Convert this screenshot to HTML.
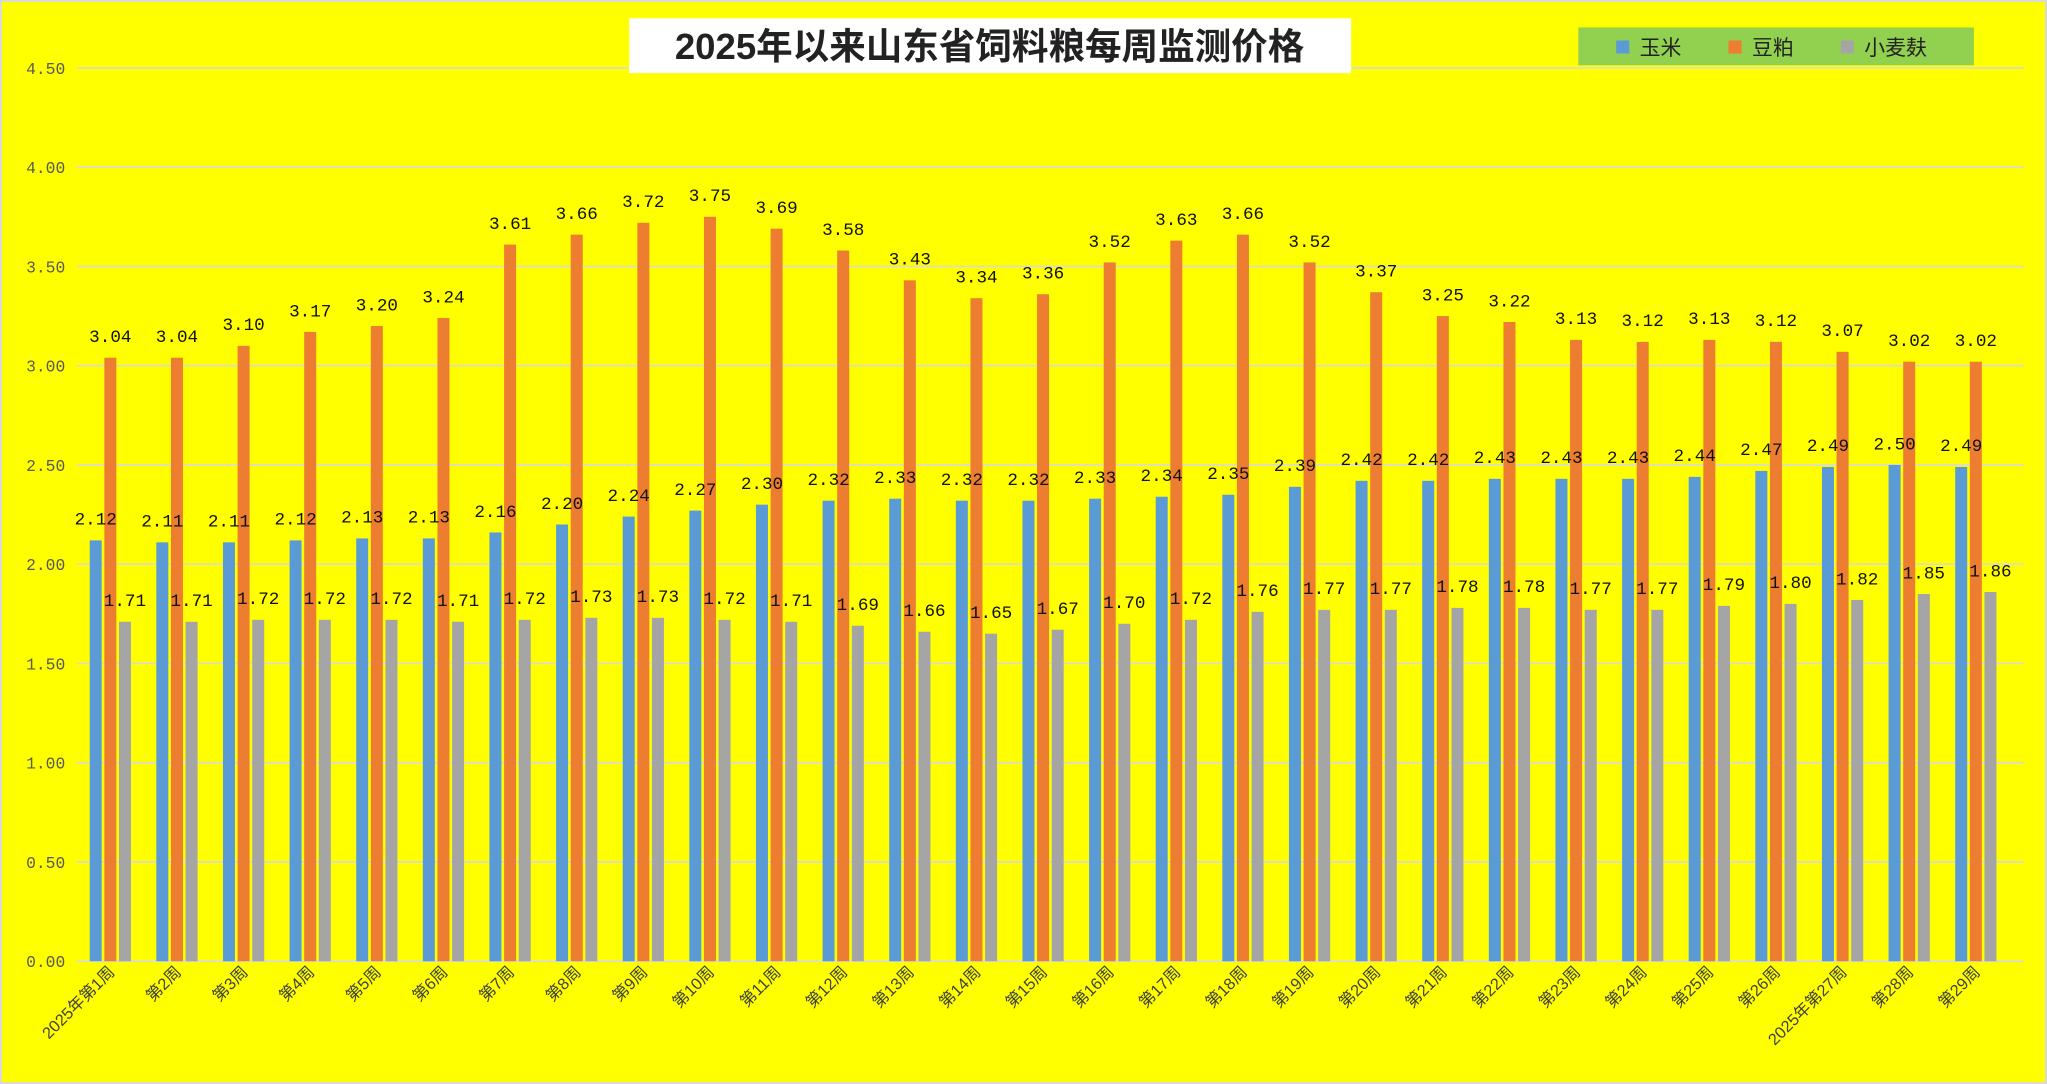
<!DOCTYPE html>
<html><head><meta charset="utf-8"><style>
html,body{margin:0;padding:0;background:#ffff00;}
svg{display:block;}
</style></head><body>
<svg width="2047" height="1084" viewBox="0 0 1568 830" preserveAspectRatio="none" xmlns="http://www.w3.org/2000/svg">
<rect x="0.5" y="0.5" width="1567" height="829" fill="#ffff00" stroke="#d9d9d9" stroke-width="2"/>
<g id="grid"></g>
<g id="bars"></g>
<g id="labels"></g>
<g id="xlabels"></g>
<rect x="482" y="14" width="553" height="42" fill="#ffffff"/>
<text x="758" y="45" text-anchor="middle" font-family="'Liberation Sans','Noto Sans CJK SC',sans-serif" font-weight="bold" font-size="28" fill="#222">2025年以来山东省饲料粮每周监测价格</text>
<g>
<rect x="1209" y="21" width="303" height="29" fill="#92d050"/>
<rect x="1238" y="31" width="10" height="10" fill="#5b9bd5"/>
<text x="1256" y="42" font-family="'Liberation Sans','Noto Sans CJK SC',sans-serif" font-size="16" fill="#222">玉米</text>
<rect x="1324" y="31" width="10" height="10" fill="#ed7d31"/>
<text x="1342" y="42" font-family="'Liberation Sans','Noto Sans CJK SC',sans-serif" font-size="16" fill="#222">豆粕</text>
<rect x="1410" y="31" width="10" height="10" fill="#a5a5a5"/>
<text x="1428" y="42" font-family="'Liberation Sans','Noto Sans CJK SC',sans-serif" font-size="16" fill="#222">小麦麸</text>
</g>
</svg>
<script>
const categories=["2025年第1周","第2周","第3周","第4周","第5周","第6周","第7周","第8周","第9周","第10周","第11周","第12周","第13周","第14周","第15周","第16周","第17周","第18周","第19周","第20周","第21周","第22周","第23周","第24周","第25周","第26周","2025年第27周","第28周","第29周"];
const corn=[2.12,2.11,2.11,2.12,2.13,2.13,2.16,2.20,2.24,2.27,2.30,2.32,2.33,2.32,2.32,2.33,2.34,2.35,2.39,2.42,2.42,2.43,2.43,2.43,2.44,2.47,2.49,2.50,2.49];
const soymeal=[3.04,3.04,3.10,3.17,3.20,3.24,3.61,3.66,3.72,3.75,3.69,3.58,3.43,3.34,3.36,3.52,3.63,3.66,3.52,3.37,3.25,3.22,3.13,3.12,3.13,3.12,3.07,3.02,3.02];
const bran=[1.71,1.71,1.72,1.72,1.72,1.71,1.72,1.73,1.73,1.72,1.71,1.69,1.66,1.65,1.67,1.70,1.72,1.76,1.77,1.77,1.78,1.78,1.77,1.77,1.79,1.80,1.82,1.85,1.86];
const yTicks=[0,0.5,1,1.5,2,2.5,3,3.5,4,4.5];
const NS="http://www.w3.org/2000/svg";
const plotL=59,plotR=1539,y0=736,yTop=52,yMax=4.5;
const y=v=>y0-(v/yMax)*(y0-yTop);
const gw=(plotR-plotL)/categories.length;
const x=i=>plotL+gw*i+gw/2;
const bw=9.2,gap=2;
function mk(tag,attrs,parent){const e=document.createElementNS(NS,tag);for(const k in attrs)e.setAttribute(k,attrs[k]);parent.appendChild(e);return e;}
const grid=document.getElementById('grid');
yTicks.forEach(t=>{
 const l=mk('line',{x1:plotL,x2:1550,y1:y(t),y2:y(t),stroke:'#d9d9d9','stroke-width':1.3},grid);
 
 
 const tx=mk('text',{x:50,y:y(t)+4.5,'text-anchor':'end','font-family':"'Liberation Mono',monospace",'font-size':12.5,fill:'#595959'},grid);
 tx.textContent=t.toFixed(2);
 
 
});
const series=[[corn,'#5b9bd5','corn'],[soymeal,'#ed7d31','soymeal'],[bran,'#a5a5a5','bran']];
const bars=document.getElementById('bars'),labels=document.getElementById('labels'),xl=document.getElementById('xlabels');
categories.forEach((c,i)=>{
 series.forEach((s,k)=>{
  const v=s[0][i];
  const bx=x(i)+(k-1)*(bw+gap)-bw/2;
  const r=mk('rect',{x:bx,y:y(v),width:bw,height:y0-y(v),fill:s[1]},bars);
  
  
  const t=mk('text',{x:bx+bw/2,y:y(v)-12,'text-anchor':'middle','font-family':"'Liberation Mono',monospace",'font-size':13.5,fill:'#111'},labels);
  t.textContent=v.toFixed(2);
  
  
 });
 const lx=x(i)+4,ly=745;
 const t=mk('text',{x:lx,y:ly,'text-anchor':'end','font-family':"'Liberation Sans','Noto Sans CJK SC',sans-serif",'font-size':12.5,fill:'#404040',transform:'rotate(-45 '+lx+' '+ly+')'},xl);
 t.textContent=c;
 
 
});
</script>
</body></html>
